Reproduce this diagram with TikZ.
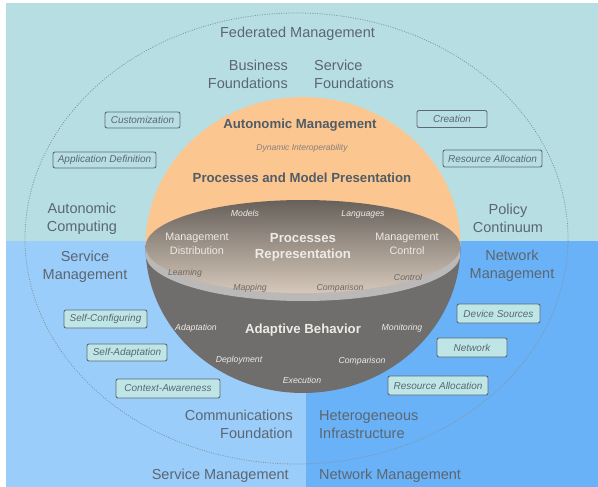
\documentclass[tikz,border=0pt]{standalone}
\usepackage{fontspec}
\setmainfont{Liberation Sans}
\definecolor{teal1}{HTML}{B7DFE3}
\definecolor{blueL}{HTML}{9BCDFB}
\definecolor{blueR}{HTML}{69B2F8}
\definecolor{orng}{HTML}{FCC690}
\definecolor{dgray}{HTML}{6F6E6D}
\definecolor{rimc}{HTML}{BBB9B7}
\definecolor{faceT}{HTML}{67615B}
\definecolor{faceM}{HTML}{9C938A}
\definecolor{faceB}{HTML}{D6C8BA}
\definecolor{txt}{HTML}{5B6670}
\definecolor{boxline}{HTML}{5E6A70}
\definecolor{boxfill}{HTML}{BFE6E7}
\definecolor{dotc}{HTML}{8395A0}
\definecolor{wtxt}{HTML}{EEEAE6}
\definecolor{ftxt}{HTML}{6E6862}
\begin{document}
\begin{tikzpicture}[x=1pt,y=-1pt,
  lab/.style={text=txt,inner sep=0pt,align=center,font=\fontsize{14.5}{18}\selectfont},
  boldlab/.style={inner sep=0pt,align=center,font=\bfseries\fontsize{13.2}{16}\selectfont},
  smalllab/.style={inner sep=0pt,font=\itshape\fontsize{8.7}{10}\selectfont},
  midlab/.style={inner sep=0pt,align=center,font=\fontsize{10.8}{14}\selectfont},
  tagbox/.style={draw=boxline,line width=0.9pt,rounded corners=2pt,inner sep=0pt,
    text=txt,font=\itshape\fontsize{10}{12}\selectfont},
  tagtop/.style={tagbox,fill=teal1},
  tagbot/.style={tagbox,fill=boxfill}]
\useasboundingbox (0,0) rectangle (598,487);
% backgrounds
\fill[white] (0,0) rectangle (598,487);
\fill[teal1] (6,3) rectangle (598,241);
\fill[blueL] (6,241) rectangle (306,487);
\fill[blueR] (306,241) rectangle (598,487);
% outer dotted ellipse
\draw[dotc,line width=0.8pt,dash pattern=on 1pt off 1.4pt] (296.5,238.5) ellipse [x radius=271.5pt, y radius=225.5pt];
% upper dome
\begin{scope}
\clip (0,0) rectangle (598,246);
\fill[orng] (303,246) ellipse [x radius=157.5pt, y radius=149pt];
\end{scope}
% lower dome
\begin{scope}
\clip (0,246) rectangle (598,487);
\fill[dgray] (303,246) ellipse [x radius=157.5pt, y radius=147pt];
\end{scope}
% rim
\begin{scope}
\clip (303,246) ellipse [x radius=157.5pt, y radius=147pt];
\fill[rimc] (303,254) ellipse [x radius=157.5pt, y radius=47pt];
\end{scope}
% face
\shade[top color=faceT,middle color=faceM,bottom color=faceB] (303,246.5) ellipse [x radius=157.5pt, y radius=46.5pt];
% region labels
\node[lab] (fed) at (297.5,34) {Federated Management};
\node[lab,align=right,anchor=east] (busf) at (288,74) {Business\\Foundations};
\node[lab,align=left,anchor=west] (servf) at (314,74) {Service\\Foundations};
\node[lab] (autocomp) at (82,219) {Autonomic\\Computing};
\node[lab] (policy) at (508,218) {Policy\\Continuum};
\node[lab] (servmgmt) at (85,266.5) {Service\\Management};
\node[lab] (netmgmt) at (512,266) {Network\\Management};
\node[lab,align=right,anchor=east] (comm) at (293,424) {Communications\\Foundation};
\node[lab,align=left,anchor=west] (hetero) at (319,424.5) {Heterogeneous\\Infrastructure};
\node[lab,anchor=east] (smb) at (289,476) {Service Management};
\node[lab,anchor=west] (nmb) at (319,476) {Network Management};
% tag boxes top
\node[tagtop,minimum width=75pt,minimum height=16pt] (cust) at (142.5,120) {Customization};
\node[tagtop,minimum width=103pt,minimum height=16pt] (appdef) at (104.5,160) {Application Definition};
\node[tagtop,minimum width=70pt,minimum height=17pt] (creation) at (452,119) {Creation};
\node[tagtop,minimum width=99pt,minimum height=17pt] (resA) at (492.5,158.5) {Resource Allocation};
% tag boxes bottom
\node[tagbot,minimum width=83pt,minimum height=18pt] (selfconf) at (105.5,319) {Self-Configuring};
\node[tagbot,minimum width=80pt,minimum height=17pt] (selfadapt) at (127,352.5) {Self-Adaptation};
\node[tagbot,minimum width=104pt,minimum height=19pt] (context) at (168,388.5) {Context-Awareness};
\node[tagbot,minimum width=83pt,minimum height=19pt] (devsrc) at (498.5,313.5) {Device Sources};
\node[tagbot,minimum width=70pt,minimum height=19pt] (network) at (472,347.5) {Network};
\node[tagbot,minimum width=100pt,minimum height=19pt] (resB) at (438,385.5) {Resource Allocation};
% dome labels
\node[boldlab,text=txt!90!black] (automgmt) at (300,125) {Autonomic Management};
\node[smalllab,text=ftxt!85!white,font=\itshape\fontsize{8.5}{10}\selectfont] (dynint) at (302,148) {Dynamic Interoperability};
\node[boldlab,text=txt!90!black] (procmodel) at (302,178) {Processes and Model Presentation};
% face labels
\node[smalllab,text=wtxt] (models) at (245,213) {Models};
\node[smalllab,text=wtxt] (languages) at (363,214) {Languages};
\node[midlab,text=wtxt] (mgmtdist) at (197,244) {Management\\Distribution};
\node[boldlab,text=wtxt] (procrep) at (303,247.5) {Processes\\Representation};
\node[midlab,text=wtxt] (mgmtctrl) at (407,244) {Management\\Control};
\node[smalllab,text=ftxt] (learning) at (185,273) {Learning};
\node[smalllab,text=ftxt] (mapping) at (250,288) {Mapping};
\node[smalllab,text=ftxt] (comp1) at (340,288) {Comparison};
\node[smalllab,text=ftxt] (control) at (408,277) {Control};
% lower dome labels
\node[smalllab,text=wtxt] (adaptation) at (196,328) {Adaptation};
\node[boldlab,text=wtxt] (adaptive) at (303,330) {Adaptive Behavior};
\node[smalllab,text=wtxt] (monitoring) at (402,328) {Monitoring};
\node[smalllab,text=wtxt] (deployment) at (239,360) {Deployment};
\node[smalllab,text=wtxt] (comp2) at (362,361) {Comparison};
\node[smalllab,text=wtxt] (execution) at (302,380) {Execution};
\end{tikzpicture}
\end{document}
